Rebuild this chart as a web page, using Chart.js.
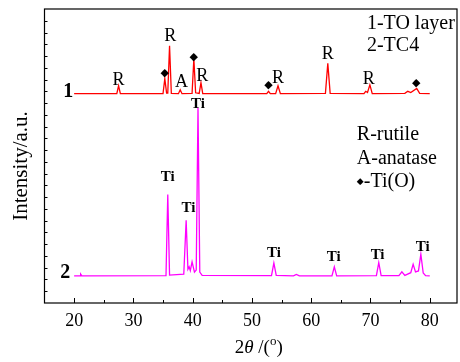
<!DOCTYPE html>
<html>
<head>
<meta charset="utf-8">
<script src="https://cdn.jsdelivr.net/npm/chart.js@4/dist/chart.umd.min.js"></script>
<style>
  html, body { margin: 0; padding: 0; background: #fff; }
  #wrap { width: 460px; height: 362px; }
</style>
</head>
<body>
<div id="wrap"><canvas id="xrd"></canvas></div>
<script>
// XRD patterns: 1 = TO layer (red), 2 = TC4 substrate (magenta)

const redX = [20, 27.2, 27.5, 27.8, 35.0, 35.3, 35.6, 35.8, 36.1, 36.4, 37.6, 37.9, 38.2,
  39.9, 40.2, 40.5, 41.1, 41.4, 41.7, 52.5, 52.8, 53.1, 54.0, 54.4, 54.8, 62.4, 62.8, 63.2,
  68.9, 69.2, 69.5, 69.9, 70.3, 75.8, 76.3, 76.8, 77.8, 78.3, 80];
const redY = [71.2, 71.2, 73.9, 71.2, 71.2, 76.3, 71.4, 71.4, 87.5, 71.3, 71.2, 72.5, 71.2,
  71.3, 83.1, 71.5, 71.3, 74.9, 71.2, 71.2, 72.0, 71.2, 71.2, 73.9, 71.2, 71.3, 81.5, 71.3,
  71.2, 72.0, 71.6, 74.2, 71.2, 71.3, 72.0, 71.6, 73.0, 71.3, 71.2];

const magX = [20, 21.0, 21.1, 21.3, 35.5, 35.8, 36.1, 38.5, 38.9, 39.2, 39.4, 39.6, 39.9,
  40.3, 40.6, 40.9, 41.2, 41.6, 53.3, 53.7, 54.1, 57.0, 57.5, 58.0, 63.5, 63.9, 64.3,
  71.0, 71.4, 71.8, 74.8, 75.3, 75.8, 76.8, 77.2, 77.6, 78.1, 78.5, 78.9, 79.3, 80];
const magY = [9.2, 9.2, 9.8, 9.2, 9.3, 36.9, 9.5, 9.8, 28.1, 11.5, 12.3, 11.0, 14.0,
  10.5, 11.2, 66.4, 10.5, 9.4, 9.3, 13.6, 9.4, 9.2, 9.7, 9.2, 9.2, 12.3, 9.2,
  9.3, 13.7, 9.3, 9.3, 10.6, 9.4, 10.3, 13.2, 10.6, 10.9, 16.6, 10.2, 9.3, 9.2];

const xTickLabels = [20, 30, 40, 50, 60, 70, 80];
const xMinorTicks = [25, 35, 45, 55, 65, 75];

// phase marks on pattern 1
const peakText = ['R', '◆', 'R', 'A', '◆', 'R', '◆', 'R', 'R', 'R', '◆'];
const peakX = [27.5, 35.3, 36.2, 38.1, 40.2, 41.6, 52.8, 54.4, 62.8, 69.7, 77.7];
const peakY = [75.9, 78.1, 90.6, 75.0, 83.7, 77.1, 74.0, 76.5, 84.6, 76.2, 74.9];

// Ti marks on pattern 2
const tiX = [35.8, 39.3, 40.9, 53.7, 63.8, 71.2, 78.8];
const tiY = [42.8, 32.4, 67.7, 16.8, 15.5, 16.2, 19.1];

const tagText = ['1', '2'];
const tagX = [19.0, 18.5];
const tagY = [71.9, 10.2];

const noteText = ['1-TO layer', '2-TC4', 'R-rutile', 'A-anatase', '◆-Ti(O)'];
const noteX = [69.4, 69.4, 67.7, 67.7, 67.7];
const noteY = [95.0, 87.5, 57.2, 49.0, 41.4];

const SERIF = "'Liberation Serif', 'Times New Roman', serif";

function toPoints(xs, ys) {
  return xs.map((v, i) => ({ x: v, y: ys[i] }));
}

function drawMark(ctx, txt, px, py, size) {
  if (txt === '◆') {
    ctx.font = size + "px 'DejaVu Sans'";
  } else {
    ctx.font = size + 'px ' + SERIF;
  }
  ctx.fillText(txt, px, py);
}

const decor = {
  id: 'decor',
  afterDraw(chart) {
    const { ctx, chartArea: a, scales: { x, y } } = chart;
    ctx.save();
    ctx.fillStyle = '#000';
    ctx.strokeStyle = '#000';

    // frame
    ctx.lineWidth = 1.2;
    ctx.strokeRect(a.left, a.top, a.right - a.left, a.bottom - a.top);

    // inward ticks on bottom axis
    ctx.lineWidth = 1;
    ctx.beginPath();
    xTickLabels.forEach(v => {
      const px = Math.round(x.getPixelForValue(v)) + 0.5;
      ctx.moveTo(px, a.bottom);
      ctx.lineTo(px, a.bottom - 5);
    });
    xMinorTicks.forEach(v => {
      const px = Math.round(x.getPixelForValue(v)) + 0.5;
      ctx.moveTo(px, a.bottom);
      ctx.lineTo(px, a.bottom - 3);
    });
    // small ticks on left axis
    for (let v = 4; v < 100; v += 4) {
      const py = Math.round(y.getPixelForValue(v)) + 0.5;
      ctx.moveTo(a.left, py);
      ctx.lineTo(a.left + 3, py);
    }
    ctx.stroke();

    // tick labels
    ctx.font = '18px ' + SERIF;
    ctx.textAlign = 'center';
    ctx.textBaseline = 'middle';
    xTickLabels.forEach(v => {
      ctx.fillText(String(v), x.getPixelForValue(v), a.bottom + 18);
    });

    // x title: 2θ/(°)
    const parts = [
      { t: '2', f: '19px ' + SERIF, dy: 0 },
      { t: 'θ', f: 'italic 19px ' + SERIF, dy: 0 },
      { t: ' /(', f: '19px ' + SERIF, dy: 0 },
      { t: 'o', f: '13px ' + SERIF, dy: -6 },
      { t: ')', f: '19px ' + SERIF, dy: 0 }
    ];
    let total = 0;
    parts.forEach(p => { ctx.font = p.f; p.w = ctx.measureText(p.t).width; total += p.w; });
    let cx = (a.left + a.right) / 2 + 8 - total / 2;
    ctx.textAlign = 'left';
    parts.forEach(p => {
      ctx.font = p.f;
      ctx.fillText(p.t, cx, a.bottom + 45 + p.dy);
      cx += p.w;
    });

    // y title
    ctx.save();
    ctx.translate(21, 166);
    ctx.rotate(-Math.PI / 2);
    ctx.textAlign = 'center';
    ctx.font = '21px ' + SERIF;
    ctx.fillText('Intensity/a.u.', 0, 0);
    ctx.restore();

    ctx.restore();
  },
  afterDatasetsDraw(chart) {
    const { ctx, scales: { x, y } } = chart;
    ctx.save();
    ctx.fillStyle = '#000';
    ctx.textAlign = 'center';
    ctx.textBaseline = 'middle';

    peakText.forEach((t, i) => {
      drawMark(ctx, t, x.getPixelForValue(peakX[i]), y.getPixelForValue(peakY[i]), t === '◆' ? 11 : 18);
    });

    ctx.font = 'bold 15px ' + SERIF;
    tiX.forEach((v, i) => {
      ctx.fillText('Ti', x.getPixelForValue(v), y.getPixelForValue(tiY[i]));
    });

    ctx.font = 'bold 20px ' + SERIF;
    tagText.forEach((t, i) => {
      ctx.fillText(t, x.getPixelForValue(tagX[i]), y.getPixelForValue(tagY[i]));
    });

    // legend notes
    ctx.textAlign = 'left';
    noteText.forEach((t, i) => {
      let px = x.getPixelForValue(noteX[i]);
      const py = y.getPixelForValue(noteY[i]);
      let rest = t;
      if (t.startsWith('◆')) {
        ctx.font = "9px 'DejaVu Sans'";
        ctx.fillText('◆', px, py);
        px += ctx.measureText('◆').width;
        rest = t.slice(1);
      }
      ctx.font = '20px ' + SERIF;
      ctx.fillText(rest, px, py);
    });
    ctx.restore();
  }
};

new Chart(document.getElementById('xrd'), {
  type: 'scatter',
  data: {
    datasets: [
      {
        label: '1-TO layer',
        data: toPoints(redX, redY),
        showLine: true,
        borderColor: '#ff0000',
        borderWidth: 1.3,
        pointRadius: 0,
        tension: 0
      },
      {
        label: '2-TC4',
        data: toPoints(magX, magY),
        showLine: true,
        borderColor: '#ff00ff',
        borderWidth: 1.3,
        pointRadius: 0,
        tension: 0
      }
    ]
  },
  options: {
    responsive: true,
    maintainAspectRatio: false,
    animation: false,
    layout: { padding: { left: 44.5, right: 3, top: 9, bottom: 59 } },
    plugins: {
      legend: { display: false },
      tooltip: { enabled: false }
    },
    scales: {
      x: { type: 'linear', min: 15, max: 84.6, display: false },
      y: { type: 'linear', min: 0, max: 100, display: false }
    }
  },
  plugins: [decor]
});
</script>
</body>
</html>
